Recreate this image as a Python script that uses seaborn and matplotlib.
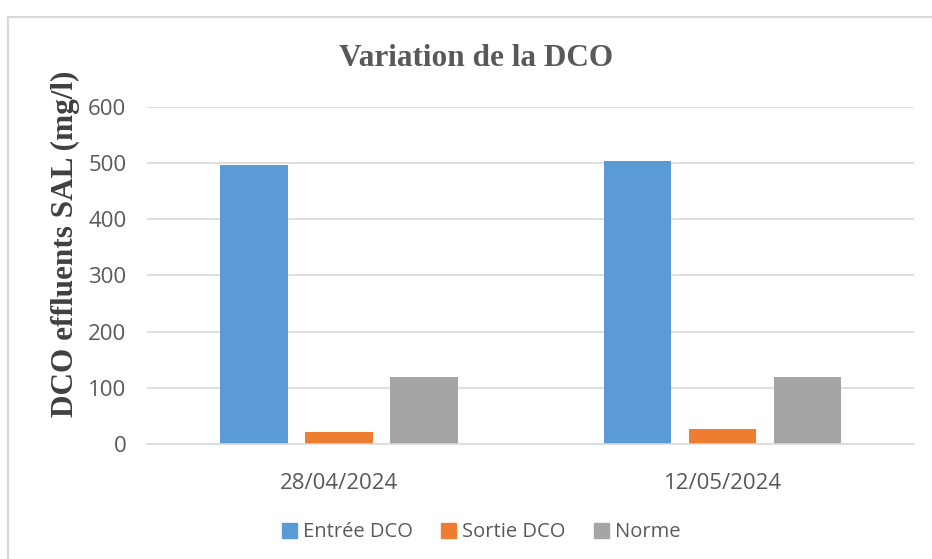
import pandas as pd
import matplotlib.pyplot as plt
import matplotlib.patches as mpatches
import seaborn as sns

# --- data ---
dates = ['28/04/2024', '12/05/2024']
series = ['Entrée DCO', 'Sortie DCO', 'Norme']
entree = [497, 504]
sortie = [22, 27]
norme = [120, 120]

colors = {'Entrée DCO': '#5B9BD5', 'Sortie DCO': '#ED7D31', 'Norme': '#A5A5A5'}
grey_txt = '#595959'
grid_c = '#D9D9D9'

df = pd.DataFrame({
    'date': dates * 3,
    'serie': [s for s in series for _ in dates],
    'value': entree + sortie + norme,
})

sns.set_style('white')
plt.rcParams['font.family'] = ['Open Sans', 'DejaVu Sans']

fig = plt.figure(figsize=(9.32, 5.59), dpi=100)
ax = fig.add_axes([0.158, 0.2057, 0.823, 0.603])

sns.barplot(data=df, x='date', y='value', hue='serie', hue_order=series,
            palette=colors, order=dates, width=0.665, gap=0.21,
            saturation=1, linewidth=0, legend=False, ax=ax)

ax.set_ylim(0, 600)
ax.set_xlim(-0.5, 1.5)
ax.set_yticks(range(0, 601, 100))
ax.yaxis.grid(True, color=grid_c, linewidth=1.2)
ax.set_axisbelow(True)
for s in ['top', 'right', 'left']:
    ax.spines[s].set_visible(False)
ax.spines['bottom'].set_color(grid_c)
ax.spines['bottom'].set_linewidth(1.2)

ax.tick_params(axis='y', length=0, pad=15, labelsize=16, labelcolor=grey_txt)
ax.tick_params(axis='x', length=0, pad=21, labelsize=16, labelcolor=grey_txt)
ax.set_xticks([-0.5, 0.5, 1.5], minor=True)
ax.tick_params(axis='x', which='minor', length=6, width=1.2, color=grid_c)
ax.set_xlabel('')
ax.set_ylabel('')

fig.text(0.511, 0.896, 'Variation de la DCO', ha='center', va='center',
         family='Liberation Serif', fontweight='bold', fontsize=22.5, color=grey_txt)
fig.text(0.07, 0.5635, 'DCO effluents SAL (mg/l)', ha='center', va='center',
         rotation=90, family='Liberation Serif', fontweight='bold',
         fontsize=22.5, color='#404040')

handles = [mpatches.Patch(color=colors[s], label=s) for s in series]
fig.legend(handles=handles, loc='center', bbox_to_anchor=(0.516, 0.048), ncol=3,
           frameon=False, fontsize=14.5, labelcolor=grey_txt,
           handlelength=0.75, handleheight=0.75, handletextpad=0.3, columnspacing=1.4)

# chart border (left/top visible, rest cropped in the reference)
fig.patches.append(mpatches.Rectangle((8 / 932, -0.1), 1.2, 1.1 - 17 / 559,
                                      transform=fig.transFigure, fill=False,
                                      edgecolor=grid_c, linewidth=1.5))

fig.savefig('out.png', dpi=100)
